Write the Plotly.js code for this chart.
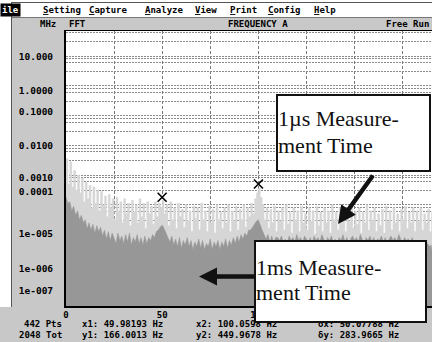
<!DOCTYPE html>
<html><head><meta charset="utf-8">
<script src="https://cdn.plot.ly/plotly-3.0.1.min.js"></script>
<style>html,body{margin:0;padding:0;background:#fff;overflow:hidden}#chart{width:432px;height:342px}</style>
</head><body><div id="chart"></div><script>
// ---- data (log10 of amplitude, one value per 1 Hz bin starting at 0 Hz) ----
const binStartHz = 0;
const binWidthHz = 1;
const spectrum1usLog10 = [
-2.45,-3.3,-2.55,-3.4,-2.85,-3.5,-3.0,-3.6,-3.1,-3.9,
-3.25,-3.8,-3.35,-4.1,-3.4,-3.95,-3.5,-4.2,-3.55,-4.0,
-3.7,-4.4,-3.65,-4.1,-3.8,-4.5,-3.75,-4.2,-3.9,-4.6,
-3.8,-4.3,-3.95,-4.7,-3.85,-4.25,-4.0,-4.6,-3.8,-4.4,
-3.95,-4.8,-3.9,-4.3,-4.05,-4.65,-3.9,-4.4,-3.95,-4.1,
-3.85,-4.3,-4.0,-4.7,-3.9,-4.5,-4.1,-4.8,-3.95,-4.4,
-4.15,-4.75,-4.0,-4.55,-4.2,-4.9,-4.05,-4.45,-4.1,-4.85,
-3.95,-4.5,-4.2,-4.9,-4.05,-4.6,-4.15,-4.95,-4.0,-4.5,
-4.25,-4.8,-4.1,-4.6,-4.0,-4.9,-4.2,-4.55,-4.05,-4.85,
-4.15,-4.5,-4.0,-4.75,-4.1,-4.4,-3.95,-4.3,-3.8,-3.6,
-3.45,-3.75,-4.0,-4.5,-4.1,-4.8,-4.15,-4.6,-4.05,-4.9,
-4.2,-4.55,-4.1,-4.85,-4.0,-4.65,-4.25,-4.95,-4.1,-4.5,
-4.2,-4.9,-4.05,-4.6,-4.3,-4.85,-4.1,-4.55,-4.2,-5.0,
-4.05,-4.7,-4.25,-4.9,-4.1,-4.6,-4.2,-4.95,-4.0,-4.5,
-4.25,-4.85,-4.1,-4.6,-4.3,-4.9,-4.15,-4.55,-4.05,-4.8,
-4.2,-4.65,-4.1,-4.95,-4.25,-4.6,-4.0,-4.85,-4.2,-4.5,
-4.1,-4.9,-4.3,-4.7,-4.15,-4.95,-4.05,-4.55,-4.2,-4.85,
-4.1,-4.6,-4.3,-4.9,-4.15,-4.5,-4.05,-4.8,-4.25,-4.6,
-4.1,-4.9,-4.2,-4.55,-4.1,-4.85,-4.3,-4.6,-4.15,-4.9,
-4.2
];
const spectrum1msLog10 = [
-3.74,-3.95,-3.9,-4.2,-4.05,-4.35,-4.2,-4.5,-4.35,-4.6,
-4.5,-4.8,-4.6,-4.85,-4.65,-4.95,-4.7,-4.9,-4.75,-5.05,
-4.85,-5.15,-4.9,-5.2,-4.95,-5.1,-5.3,-4.95,-5.2,-5.05,
-5.3,-5.0,-5.25,-4.95,-5.35,-5.1,-5.25,-5.0,-5.3,-5.1,
-5.35,-5.05,-5.3,-5.1,-5.2,-5.0,-5.1,-4.9,-4.85,-4.75,
-4.68,-4.8,-4.95,-5.05,-5.25,-5.05,-5.35,-5.15,-5.4,-5.1,
-5.45,-5.2,-5.35,-5.1,-5.4,-5.2,-5.5,-5.25,-5.4,-5.15,
-5.45,-5.2,-5.5,-5.3,-5.4,-5.15,-5.5,-5.25,-5.4,-5.2,
-5.5,-5.25,-5.4,-5.15,-5.45,-5.2,-5.35,-5.1,-5.3,-5.05,
-5.25,-5.0,-5.15,-4.95,-5.05,-4.85,-4.85,-4.75,-4.65,-4.55,
-4.5,-4.7,-4.85,-5.0,-5.15,-5.0,-5.25,-5.05,-5.3,-5.1,
-5.1,-5.2,-5.05,-5.25,-5.15,-5.3,-5.05,-5.2,-5.1,-5.25,
-5.0,-5.2,-5.1,-5.3,-5.05,-5.15,-5.25,-5.1,-5.3,-5.05,
-5.2,-5.1,-5.25,-5.0,-5.15,-5.3,-5.1,-5.2,-5.05,-5.25,
-5.15,-5.3,-5.1,-5.2,-5.0,-5.25,-5.1,-5.3,-5.15,-5.05,
-5.2,-5.1,-5.25,-5.0,-5.15,-5.3,-5.1,-5.2,-5.05,-5.25,
-5.1,-5.3,-5.15,-5.2,-5.05,-5.25,-5.1,-5.3,-5.15,-5.05,
-5.2,-5.1,-5.25,-5.0,-5.15,-5.3,-5.1,-5.2,-5.15,-5.25,
-5.1,-5.3,-5.2,-5.35,-5.25,-5.4,-5.3,-5.35,-5.3,-5.4,
-5.35
];
const cursorHz = [49.98193, 100.0598];
const cursorAmp = [1.8e-4, 5.0e-4];
const xTickVals = [0, 50, 100, 150];
const xTickText = ['0', '50', '100', '150'];
const yTickText = ['10.000','1.0000','0.1000','0.0100','0.0010','0.0001','1e-005','1e-006','1e-007'];
const yTickVals = [9.5, 0.69, 0.135, 0.0098, 8.1e-4, 2.8e-4, 1.07e-5, 7.4e-7, 1.35e-7];
const gridDecades = [-8,-7,-6,-5,-4,-3,-2,-1,0,1];
const gridMultipliers = [1,3,6,8];
const menuItems = ['Setting','Capture','Analyze','View','Print','Config','Help'];
const headerTexts = ['MHz','FFT','FREQUENCY A','Free Run'];
const statusRow1 = ['442 Pts','x1: 49.98193 Hz','x2: 100.0598 Hz','δx: 50.07788 Hz'];
const statusRow2 = ['2048 Tot','y1: 166.0013 Hz','y2: 449.9678 Hz','δy: 283.9665 Hz'];
const calloutFast = ['1µs Measure-','ment Time'];
const calloutSlow = ['1ms Measure-','ment Time'];

// ---- geometry helpers ----
const W=432,H=342,ML=66,MT=31,MB=36;
const PW=W-ML, PH=H-MT-MB;
const px = x => (x-ML)/PW;
const py = y => (H-MB-y)/PH;

const minorGrid = [];
gridDecades.forEach(d => gridMultipliers.forEach(m => minorGrid.push(m*Math.pow(10,d))));

const mono = {family:'DejaVu Sans Mono, monospace', size:9, color:'#000', weight:700};
const serif = {family:'Liberation Serif, Times New Roman, serif', size:22, color:'#111'};

const baseline = {x:[0,200], y:[1e-12,1e-12], mode:'lines', line:{width:0}, hoverinfo:'skip', showlegend:false};
const traces = [
  baseline,
  {x0:binStartHz, dx:binWidthHz, y:spectrum1usLog10.map(v=>Math.pow(10,v)), mode:'lines',
   line:{width:0.5,color:'#d4d4d4', shape:'hv'}, fill:'tonexty', fillcolor:'#d6d6d6', showlegend:false},
  Object.assign({}, baseline),
  {x0:binStartHz, dx:binWidthHz, y:spectrum1msLog10.map(v=>Math.pow(10,v)), mode:'lines',
   line:{width:0.5,color:'#979797'}, fill:'tonexty', fillcolor:'#979797', showlegend:false},
  {x:cursorHz, y:cursorAmp, mode:'markers', marker:{symbol:'x-thin', size:9, color:'#000', line:{width:1.6,color:'#000'}}, showlegend:false}
];

const ann = [];
// menu
ann.push({text:'ile', x:px(0), y:py(10), xanchor:'left', yanchor:'middle', bgcolor:'#000', borderpad:1, font:Object.assign({},mono,{color:'#fff'})});
const menuX = [41,87,143,193,228,266,312];
menuItems.forEach((t,i)=>ann.push({text:'<span style="text-decoration:underline">'+t[0]+'</span>'+t.slice(1), x:px(menuX[i]), y:py(10), xanchor:'left', yanchor:'middle', font:mono}));
// header
ann.push({text:headerTexts[0], x:px(58), y:py(24), xanchor:'right', yanchor:'middle', font:mono});
ann.push({text:headerTexts[1], x:px(67), y:py(24), xanchor:'left', yanchor:'middle', font:mono});
ann.push({text:headerTexts[2], x:px(226), y:py(24), xanchor:'left', yanchor:'middle', font:mono});
ann.push({text:headerTexts[3], x:px(431), y:py(24), xanchor:'right', yanchor:'middle', font:mono});
// status rows
const statusX = [64,80,194,316];
statusRow1.forEach((t,i)=>ann.push({text:t, x:px(statusX[i]), y:py(324), xanchor:i===0?'right':'left', yanchor:'middle', font:mono}));
statusRow2.forEach((t,i)=>ann.push({text:t, x:px(statusX[i]), y:py(335), xanchor:i===0?'right':'left', yanchor:'middle', font:mono}));
// arrows
ann.push({text:'', x:px(338), y:py(224), ax:36, ay:-50, showarrow:true, arrowhead:2, arrowsize:0.8, arrowwidth:4.5, arrowcolor:'#111', standoff:0});
ann.push({text:'', x:px(199), y:py(276.5), ax:60, ay:0, showarrow:true, arrowhead:2, arrowsize:0.8, arrowwidth:4.5, arrowcolor:'#111', standoff:0});
// callout boxes
ann.push({text:' ', x:px(276), y:py(94), xanchor:'left', yanchor:'top', width:151, height:74, bgcolor:'#fff', bordercolor:'#111', borderwidth:2, borderpad:0});
ann.push({text:' ', x:px(254), y:py(240), xanchor:'left', yanchor:'top', width:169, height:79, bgcolor:'#fff', bordercolor:'#111', borderwidth:2, borderpad:0});
ann.push({text:calloutFast[0], x:px(277), y:py(119), xanchor:'left', yanchor:'middle', borderpad:0, font:serif});
ann.push({text:calloutFast[1], x:px(277), y:py(145), xanchor:'left', yanchor:'middle', borderpad:0, font:serif});
ann.push({text:calloutSlow[0], x:px(255), y:py(267), xanchor:'left', yanchor:'middle', borderpad:0, font:serif});
ann.push({text:calloutSlow[1], x:px(255), y:py(292), xanchor:'left', yanchor:'middle', borderpad:0, font:serif});
ann.forEach(a=>{a.xref='paper'; a.yref='paper'; if(a.showarrow===undefined) a.showarrow=false;});

const shapes = [
  {type:'rect', xref:'paper', yref:'paper', x0:px(0), x1:px(W), y0:py(17), y1:py(0), fillcolor:'#fff', line:{width:0}, layer:'below'},
  {type:'rect', xref:'paper', yref:'paper', x0:px(0), x1:px(11), y0:py(307), y1:py(17), fillcolor:'#fff', line:{width:0}, layer:'below'},
  {type:'line', xref:'paper', yref:'paper', x0:px(11), x1:px(W), y0:py(2.5), y1:py(2.5), line:{width:1,color:'#555'}},
  {type:'line', xref:'paper', yref:'paper', x0:px(11), x1:px(W), y0:py(17.5), y1:py(17.5), line:{width:1,color:'#777'}},
  {type:'line', xref:'paper', yref:'paper', x0:px(11.5), x1:px(11.5), y0:py(307), y1:py(2.5), line:{width:1,color:'#555'}}
];

const layout = {
  width:W, height:H, margin:{l:ML, r:0, t:MT, b:MB, pad:0},
  paper_bgcolor:'#c8c8c8', plot_bgcolor:'#fff', showlegend:false,
  xaxis:{range:[0,190.3], tickvals:xTickVals, ticktext:xTickText, ticks:'', showgrid:true,
    gridcolor:'#777', griddash:'3px,2px', gridwidth:1,
    minor:{dtick:25, showgrid:true, gridcolor:'#777', griddash:'3px,2px', gridwidth:1},
    showline:true, linecolor:'#000', linewidth:1.5, mirror:true, zeroline:false,
    tickfont:mono, fixedrange:true},
  yaxis:{type:'log', range:[-7.40,1.84], tickvals:yTickVals, ticktext:yTickText, showgrid:false,
    ticks:'outside', ticklen:9, tickcolor:'rgba(0,0,0,0)',
    minor:{tickvals:minorGrid, showgrid:true, gridcolor:'#8a8a8a', griddash:'2px,1px', gridwidth:1, ticks:''},
    showline:true, linecolor:'#000', linewidth:2, mirror:false, zeroline:false,
    tickfont:Object.assign({},mono,{size:9.5}), fixedrange:true},
  annotations:ann, shapes:shapes
};
Plotly.newPlot('chart', traces, layout, {displayModeBar:false, staticPlot:true});
</script></body></html>
